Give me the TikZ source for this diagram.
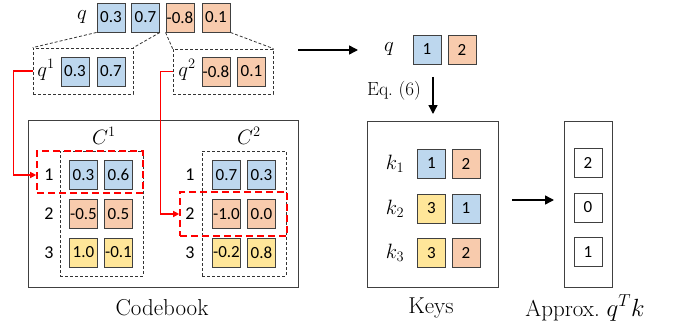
\documentclass[tikz,border=0pt]{standalone}
\usepackage{fontspec}
\usetikzlibrary{arrows.meta,calc}
\newfontfamily\cellfont{Carlito}
\definecolor{cblue}{HTML}{BDD7EE}
\definecolor{corange}{HTML}{F8CBAD}
\definecolor{cyellow}{HTML}{FFE699}
\definecolor{cedge}{HTML}{404040}
\definecolor{cred}{HTML}{FF0000}
\tikzset{
  cell/.style={draw=cedge, line width=0.9pt, minimum width=28pt, minimum height=29pt,
    inner sep=0pt, font=\cellfont\fontsize{17}{17}\selectfont},
  blc/.style={cell, fill=cblue},
  orc/.style={cell, fill=corange},
  yec/.style={cell, fill=cyellow},
  whc/.style={cell, fill=white},
  grp/.style={draw=black!80, line width=0.8pt, dash pattern=on 3pt off 2pt, inner sep=0pt},
  redgrp/.style={draw=cred, line width=1.6pt, dash pattern=on 7pt off 4pt, inner sep=0pt},
  panel/.style={draw=black!75, line width=1pt, inner sep=0pt},
  rowlab/.style={font=\cellfont\fontsize{18}{18}\selectfont},
  mlab/.style={font=\fontsize{22}{22}\selectfont},
  captext/.style={font=\fontsize{23}{23}\selectfont},
  splitlink/.style={draw=black!80, line width=0.8pt, dash pattern=on 3pt off 2pt},
  redlink/.style={draw=cred, line width=1.3pt, -{Triangle[length=6pt,width=6pt]}},
  blackarrow/.style={draw=black, line width=1.4pt, -{Triangle[length=9pt,width=9pt]}},
}
\begin{document}
\begin{tikzpicture}[x=1pt,y=-1pt]
\useasboundingbox (0,0) rectangle (675,329);

% ---- query vector q ----
\node[mlab] (qlab) at (82,17) {$q$};
\node[blc] (q1) at (111,17.5) {0.3};
\node[blc] (q2) at (145.5,17.5) {0.7};
\node[orc] (q3) at (180,17.5) {-0.8};
\node[orc] (q4) at (216,17.5) {0.1};

% ---- sub-vectors q^1, q^2 ----
\node[grp, minimum width=100pt, minimum height=46pt] (g1) at (83,71) {};
\node[mlab] (g1lab) at (46,70) {$q^1$};
\node[blc] (g1a) at (75,71.5) {0.3};
\node[blc] (g1b) at (111,71.5) {0.7};

\node[grp, minimum width=100pt, minimum height=45pt] (g2) at (223,71.5) {};
\node[mlab] (g2lab) at (187,70) {$q^2$};
\node[orc] (g2a) at (216,71.5) {-0.8};
\node[orc] (g2b) at (251.5,71.5) {0.1};

\draw[splitlink] (q1.south west) -- (g1.north west);
\draw[splitlink] (q2.south east) -- (g1.north east);
\draw[splitlink] (q3.south west) -- (g2.north west);
\draw[splitlink] (q4.south east) -- (g2.north east);

% ---- codebook ----
\node[panel, minimum width=270pt, minimum height=167pt] (cb) at (163,203.5) {};
\node[captext] (cblab) at (162,308) {Codebook};

\node[mlab] (c1lab) at (104,136) {$C^1$};
\node[grp, minimum width=83pt, minimum height=125pt] (c1) at (101.5,213.5) {};
\node[rowlab] (c1r1) at (49,175) {1};
\node[rowlab] (c1r2) at (49,214) {2};
\node[rowlab] (c1r3) at (49,252.5) {3};
\node[blc] (c1a1) at (83.5,175) {0.3};
\node[blc] (c1b1) at (118.5,175) {0.6};
\node[orc] (c1a2) at (83.5,214) {-0.5};
\node[orc] (c1b2) at (118.5,214) {0.5};
\node[yec] (c1a3) at (83.5,252.5) {1.0};
\node[yec] (c1b3) at (118.5,252.5) {-0.1};

\node[mlab] (c2lab) at (249,136) {$C^2$};
\node[grp, minimum width=84pt, minimum height=125pt] (c2) at (244,213.5) {};
\node[rowlab] (c2r1) at (190,175) {1};
\node[rowlab] (c2r2) at (190,214) {2};
\node[rowlab] (c2r3) at (190,252.5) {3};
\node[blc] (c2a1) at (226.5,175) {0.7};
\node[blc] (c2b1) at (261.5,175) {0.3};
\node[orc] (c2a2) at (226.5,214) {-1.0};
\node[orc] (c2b2) at (261.5,214) {0.0};
\node[yec] (c2a3) at (226.5,252.5) {-0.2};
\node[yec] (c2b3) at (261.5,252.5) {0.8};

% selected codewords
\node[redgrp, minimum width=106pt, minimum height=42pt] (sel1) at (90,172) {};
\node[redgrp, minimum width=107pt, minimum height=44pt] (sel2) at (233.5,214) {};

\draw[redlink] (g1.west) -- ++(-19,0) |- (sel1.west |- c1r1);
\draw[redlink] (g2.west) -- ++(-12,0) |- (sel2.west |- c2r2);

% ---- quantized query ----
\coordinate (qa) at (298,50);
\coordinate (qb) at (358,50);
\draw[blackarrow] (qa) -- (qb);
\node[mlab] (rqlab) at (389,49) {$q$};
\node[blc] (rq1) at (427,49.5) {1};
\node[orc] (rq2) at (462,49.5) {2};

\coordinate (da) at (433,77);
\coordinate (db) at (433,114);
\draw[blackarrow] (da) -- (db);
\node[font=\fontsize{19}{19}\selectfont] (eqlab) at (394,91) {Eq.~(6)};

% ---- keys ----
\node[panel, minimum width=131pt, minimum height=166pt] (keys) at (432.5,204) {};
\node[captext] (keyslab) at (431,308) {Keys};
\node[mlab] (k1) at (395,163.5) {$k_1$};
\node[mlab] (k2) at (395,208.5) {$k_2$};
\node[mlab] (k3) at (395,253) {$k_3$};
\node[blc] (k1a) at (431.5,163.5) {1};
\node[orc] (k1b) at (466,163.5) {2};
\node[yec] (k2a) at (431.5,208.5) {3};
\node[blc] (k2b) at (466,208.5) {1};
\node[yec] (k3a) at (431.5,253) {3};
\node[orc] (k3b) at (466,253) {2};

\coordinate (ka) at (512,200);
\coordinate (kb) at (554,200);
\draw[blackarrow] (ka) -- (kb);

% ---- approximate scores ----
\node[panel, minimum width=48pt, minimum height=166pt] (apx) at (588,204) {};
\node[captext] (apxlab) at (585,308) {Approx.~$q^Tk$};
\node[whc] (s1) at (588,162.5) {2};
\node[whc] (s2) at (588,207.5) {0};
\node[whc] (s3) at (588,252) {1};
\end{tikzpicture}
\end{document}
